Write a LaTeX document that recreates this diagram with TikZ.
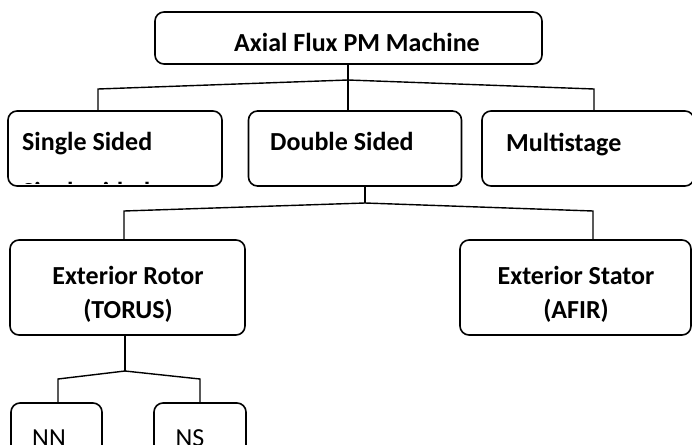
\documentclass[tikz,border=0pt]{standalone}
\usepackage{fontspec}
\setmainfont{Carlito}
\usetikzlibrary{positioning}

\begin{document}
\begin{tikzpicture}[x=1pt, y=-1pt,
    box/.style={draw, rounded corners=9pt, line width=1.6pt, inner sep=0pt},
    lbl/.style={font=\fontsize{26}{30}\selectfont\bfseries, inner sep=0pt},
    link/.style={line width=1.4pt}]
  \clip (0,0) rectangle (692,444);

  % top level
  \node[box, minimum width=387pt, minimum height=52pt] (afpm) at (348.5,38) {};
  \node[lbl, anchor=base] (afpmtxt) at (357,52) {Axial Flux PM Machine};

  % second level
  \node[box, minimum width=214pt, minimum height=75pt] (single) at (115,148.5) {};
  \node[box, minimum width=213pt, minimum height=75pt] (double) at (355,148.5) {};
  \node[box, minimum width=212pt, minimum height=75pt] (multi) at (588,148.5) {};
  \node[lbl, anchor=base west] (singletxt) at (22,150) {Single Sided};
  \node[lbl, anchor=base west] (doubletxt) at (270,150) {Double Sided};
  \node[lbl, anchor=base west] (multitxt) at (506,151) {Multistage};
  \begin{scope}
    \clip (10,111) rectangle (220,183.5);
    \node[lbl, anchor=base west] (singlemore) at (22,200) {Single sided};
  \end{scope}

  % third level
  \node[box, minimum width=235pt, minimum height=95pt] (rotor) at (127.5,287.5) {};
  \node[box, minimum width=231pt, minimum height=95pt] (stator) at (575.5,287.5) {};
  \node[lbl, anchor=base] (rotortxt) at (128,284) {Exterior Rotor};
  \node[lbl, anchor=base] (torus) at (128,318) {(TORUS)};
  \node[lbl, anchor=base] (statortxt) at (576,284) {Exterior Stator};
  \node[lbl, anchor=base] (afir) at (576,318) {(AFIR)};

  % fourth level
  \node[box, minimum width=91pt, minimum height=70pt] (nn) at (56.5,438) {};
  \node[box, minimum width=92pt, minimum height=70pt] (ns) at (200,438) {};
  \node[lbl, font=\fontsize{26}{30}\selectfont, anchor=base] (nntxt) at (49,446) {NN};
  \node[lbl, font=\fontsize{26}{30}\selectfont, anchor=base] (nstxt) at (190,446) {NS};

  % connectors
  \coordinate (k0) at (348,80);
  \coordinate (k1) at (365,203);
  \coordinate (k2) at (125,371);
  \draw[link] (afpm.south -| k0) -- (k0) -- (double.north -| k0);
  \draw[link] (k0) -- (98,89) -- (single.north -| 98,0);
  \draw[link] (k0) -- (594,89) -- (multi.north -| 594,0);
  \draw[link] (double.south -| k1) -- (k1);
  \draw[link] (k1) -- (124,211) -- (rotor.north -| 124,0);
  \draw[link] (k1) -- (593,211) -- (stator.north -| 593,0);
  \draw[link] (rotor.south -| k2) -- (k2);
  \draw[link] (k2) -- (58,379) -- (nn.north -| 58,0);
  \draw[link] (k2) -- (200,379) -- (ns.north);
\end{tikzpicture}
\end{document}
